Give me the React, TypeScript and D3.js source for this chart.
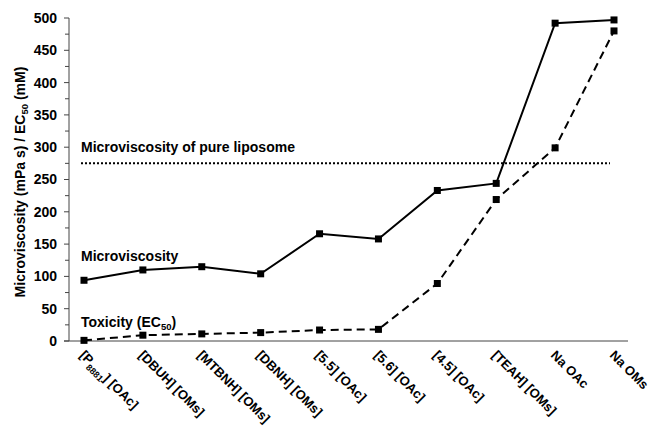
import React from "react";
import * as d3 from "d3";

const categories = [
  "[P8881] [OAc]",
  "[DBUH] [OMs]",
  "[MTBNH] [OMs]",
  "[DBNH] [OMs]",
  "[5.5] [OAc]",
  "[5.6] [OAc]",
  "[4.5] [OAc]",
  "[TEAH] [OMs]",
  "Na OAc",
  "Na OMs",
];
const microviscosity = [94, 110, 115, 104, 166, 158, 233, 244, 492, 497];
const toxicity = [1, 9, 11, 13, 17, 18, 89, 219, 299, 480];
const pureLiposome = 275;
const yTicks = [0, 50, 100, 150, 200, 250, 300, 350, 400, 450, 500];
const yMinorTicks = [25, 75, 125, 175, 225, 275, 325, 375, 425, 475];

const W = 651;
const H = 431;
const axisX = 69;
const axisEnd = 628;

export default function App() {
  const y = d3.scaleLinear().domain([0, 500]).range([341, 18]);
  const x = d3.scaleLinear().domain([0, categories.length - 1]).range([84, 614]);
  const line = d3
    .line<number>()
    .x((_, i) => x(i))
    .y((d) => y(d));
  const font = "'Liberation Sans', Arial, sans-serif";

  const renderLabel = (c: string) => {
    if (c.startsWith("[P8881]")) {
      return (
        <>
          [P<tspan fontSize={9} dy={4}>8881</tspan>
          <tspan dy={-4}>] [OAc]</tspan>
        </>
      );
    }
    return c;
  };

  return (
    <svg
      width={W}
      height={H}
      style={{ position: "absolute", left: 0, top: 0, background: "#fff" }}
      fontFamily={font}
      fontWeight="bold"
    >
      {/* y axis */}
      <line x1={axisX} x2={axisX} y1={y(500)} y2={y(0)} stroke="#444" strokeWidth={1} />
      {yTicks.map((t) => (
        <g key={"t" + t}>
          <line x1={axisX - 5} x2={axisX} y1={y(t)} y2={y(t)} stroke="#444" />
          <text x={axisX - 12} y={y(t)} dy="0.35em" textAnchor="end" fontSize={14} fill="#000">
            {t}
          </text>
        </g>
      ))}
      {yMinorTicks.map((t) => (
        <line key={"m" + t} x1={axisX - 4} x2={axisX} y1={y(t)} y2={y(t)} stroke="#444" />
      ))}
      {/* x axis */}
      <line x1={axisX - 5} x2={axisEnd} y1={y(0)} y2={y(0)} stroke="#444" strokeWidth={1} />

      {/* y title */}
      <text
        transform={`translate(25,${182}) rotate(-90)`}
        textAnchor="middle"
        fontSize={14}
        fill="#000"
      >
        Microviscosity (mPa s) / EC<tspan fontSize={9.5} dy={3}>50</tspan>
        <tspan dy={-3}> (mM)</tspan>
      </text>

      {/* pure liposome line */}
      <line
        x1={81}
        x2={610}
        y1={y(pureLiposome)}
        y2={y(pureLiposome)}
        stroke="#000"
        strokeWidth={2}
        strokeDasharray="2,2"
      />
      <text x={81} y={y(pureLiposome) - 11} fontSize={14} fill="#000">
        Microviscosity of pure liposome
      </text>

      {/* series */}
      <path d={line(microviscosity) || ""} fill="none" stroke="#000" strokeWidth={2} />
      <path
        d={line(toxicity) || ""}
        fill="none"
        stroke="#000"
        strokeWidth={2}
        strokeDasharray="8,5"
      />
      {microviscosity.map((v, i) => (
        <rect key={"mv" + i} x={x(i) - 3.5} y={y(v) - 3.5} width={7} height={7} fill="#000" />
      ))}
      {toxicity.map((v, i) => (
        <rect key={"tx" + i} x={x(i) - 3.5} y={y(v) - 3.5} width={7} height={7} fill="#000" />
      ))}

      <text x={81} y={261} fontSize={14} fill="#000">
        Microviscosity
      </text>
      <text x={81} y={327} fontSize={14} fill="#000">
        Toxicity (EC<tspan fontSize={9.5} dy={3}>50</tspan>
        <tspan dy={-3}>)</tspan>
      </text>

      {/* x labels */}
      {categories.map((c, i) => (
        <text
          key={"x" + i}
          transform={`translate(${x(i) - 5},${356}) rotate(45)`}
          fontSize={13}
          fill="#000"
        >
          {renderLabel(c)}
        </text>
      ))}
    </svg>
  );
}
